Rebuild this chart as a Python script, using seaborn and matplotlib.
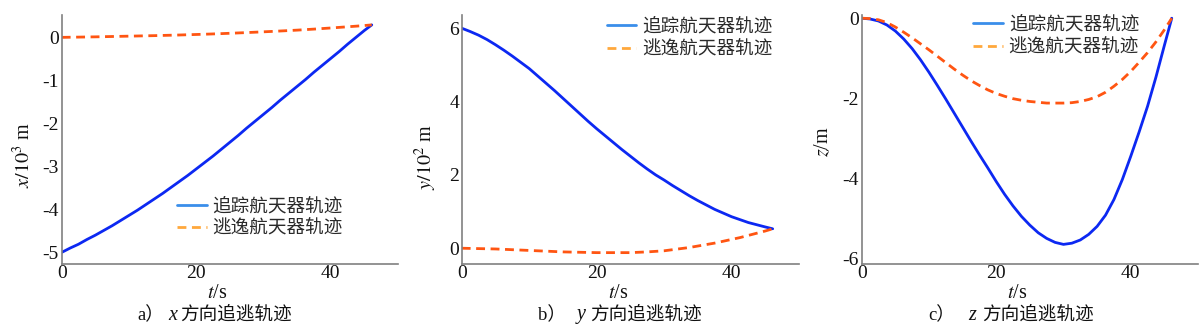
import numpy as np
import pandas as pd
import matplotlib
matplotlib.use("Agg")
import matplotlib.pyplot as plt
from matplotlib.lines import Line2D
import seaborn as sns

# ---------------- data ----------------
t = [0, 1.25, 2.5, 3.75, 5, 6.25, 7.5, 8.75, 10, 11.25, 12.5, 13.75, 15,
     16.25, 17.5, 18.75, 20, 21.25, 22.5, 23.75, 25, 26.25, 27.5, 28.75, 30,
     31.25, 32.5, 33.75, 35, 36.25, 37.5, 38.75, 40, 41.25, 42.5, 43.75, 45, 46.1]

x_chase = [-5.0, -4.90, -4.81, -4.70, -4.60, -4.49, -4.38, -4.26, -4.14, -4.02,
           -3.89, -3.76, -3.63, -3.49, -3.35, -3.21, -3.06, -2.91, -2.76, -2.60,
           -2.44, -2.28, -2.11, -1.95, -1.79, -1.63, -1.46, -1.30, -1.14, -0.98,
           -0.81, -0.65, -0.49, -0.33, -0.16, 0.0, 0.16, 0.29]
x_evade = [0.0, 0.003, 0.006, 0.009, 0.012, 0.016, 0.020, 0.024, 0.028, 0.032,
           0.036, 0.040, 0.045, 0.050, 0.055, 0.061, 0.067, 0.073, 0.080, 0.087,
           0.095, 0.103, 0.111, 0.120, 0.129, 0.138, 0.148, 0.158, 0.168, 0.180,
           0.192, 0.205, 0.218, 0.232, 0.246, 0.260, 0.275, 0.29]

y_chase = [6.0, 5.91, 5.81, 5.69, 5.55, 5.40, 5.24, 5.07, 4.90, 4.70,
           4.50, 4.30, 4.09, 3.88, 3.67, 3.46, 3.26, 3.07, 2.88, 2.69,
           2.51, 2.33, 2.16, 2.00, 1.86, 1.71, 1.57, 1.43, 1.30, 1.18,
           1.06, 0.96, 0.86, 0.78, 0.70, 0.64, 0.58, 0.53]
y_evade = [0.0, -0.005, -0.01, -0.015, -0.02, -0.03, -0.04, -0.05, -0.06, -0.07,
           -0.08, -0.09, -0.10, -0.105, -0.11, -0.115, -0.12, -0.12, -0.12, -0.12,
           -0.12, -0.11, -0.10, -0.085, -0.07, -0.04, -0.01, 0.02, 0.06, 0.10,
           0.14, 0.19, 0.24, 0.29, 0.35, 0.41, 0.47, 0.53]

z_chase = [0.0, -0.02, -0.07, -0.17, -0.32, -0.52, -0.76, -1.04, -1.35, -1.68,
           -2.02, -2.37, -2.72, -3.07, -3.41, -3.74, -4.08, -4.40, -4.69, -4.95,
           -5.17, -5.36, -5.50, -5.60, -5.65, -5.62, -5.54, -5.40, -5.20, -4.92,
           -4.53, -4.03, -3.45, -2.84, -2.20, -1.47, -0.68, 0.0]
z_evade = [0.0, -0.01, -0.04, -0.11, -0.22, -0.35, -0.49, -0.64, -0.79, -0.95,
           -1.11, -1.27, -1.42, -1.56, -1.68, -1.79, -1.88, -1.95, -2.01, -2.05,
           -2.08, -2.10, -2.12, -2.12, -2.12, -2.11, -2.08, -2.03, -1.96, -1.85,
           -1.70, -1.53, -1.33, -1.10, -0.86, -0.59, -0.29, 0.0]

series_names = ["追踪航天器轨迹", "逃逸航天器轨迹"]
ylabels = [r"$x/10^3$ m", r"$y/10^2$ m", r"$z$/m"]
xlabel = r"$t$/s"
cap_letters = ["a）", "b）", "c）"]
cap_vars = ["x", "y", "z"]
cap_text = "方向追逃轨迹"
yticks_list = [[0, -1, -2, -3, -4, -5], [0, 2, 4, 6], [0, -2, -4, -6]]
xticks = [0, 20, 40]

# ---------------- style ----------------
sns.set_theme(style="white")
plt.rcParams["font.family"] = ["Liberation Serif", "Noto Sans CJK SC"]
plt.rcParams["mathtext.fontset"] = "stix"
plt.rcParams["axes.unicode_minus"] = False

W, H = 1200, 335
fig = plt.figure(figsize=(12, 3.35), dpi=100)

line_colors = {series_names[0]: "#0C28F2", series_names[1]: "#FF5512"}
leg_colors = ["#3A8EEA", "#FFA83C"]
dash_map = {series_names[0]: "", series_names[1]: (3.2, 2.0)}

panels = [(x_chase, x_evade), (y_chase, y_evade), (z_chase, z_evade)]
ax_left_px = [61.7, 461.7, 861.7]
ax_right_px = [398, 799, 1198]
ylims = [(-5.27, 0.52), (-0.43, 6.36), (-6.14, 0.08)]
ylab_pos = [(-0.112, 0.438), (-0.106, 0.43), (-0.112, 0.49)]
leg_anchor_px = [(177, 217.5), (606.7, 38.2), (973.3, 35.8)]
cap_px = [(137, 168, 180), (538, 577, 590), (928, 968, 982)]

cjk = ["Noto Sans CJK SC", "DejaVu Sans"]
txt_color = "#111111"

for i, (s1, s2) in enumerate(panels):
    l, r = ax_left_px[i], ax_right_px[i]
    ax = fig.add_axes([l / W, 1 - 264 / H, (r - l) / W, 249 / H])
    df = pd.DataFrame({
        "t": t + t,
        "v": s1 + s2,
        "s": [series_names[0]] * len(t) + [series_names[1]] * len(t),
    })
    sns.lineplot(data=df, x="t", y="v", hue="s", style="s",
                 palette=line_colors, dashes=dash_map, linewidth=2.0,
                 legend=False, ax=ax, sort=False)
    ax.set_xlim(0, 50)
    ax.set_ylim(*ylims[i])
    ax.set_xticks(xticks)
    ax.set_yticks(yticks_list[i])
    ax.tick_params(axis="both", length=0, labelsize=14, colors=txt_color)
    ax.tick_params(axis="y", pad=2)
    ax.tick_params(axis="x", pad=1)
    for side in ["top", "right"]:
        ax.spines[side].set_visible(False)
    for side in ["left", "bottom"]:
        ax.spines[side].set_color("#808080")
        ax.spines[side].set_linewidth(1.2)
    ax.set_xlabel(xlabel, fontsize=14.5, color=txt_color)
    ax.xaxis.set_label_coords(0.4636, -0.1165)
    ax.xaxis.label.set_va("center")
    ax.set_ylabel(ylabels[i], fontsize=14.5, color=txt_color)
    ax.yaxis.set_label_coords(*ylab_pos[i])
    ax.yaxis.label.set_va("center")

    handles = [Line2D([], [], color=leg_colors[0], lw=2.0),
               Line2D([], [], color=leg_colors[1], lw=2.0, dashes=(3.2, 2.0))]
    ax_px, ay_px = leg_anchor_px[i]
    ax.legend(handles, series_names, loc="center left",
              bbox_to_anchor=(ax_px / W, 1 - ay_px / H),
              bbox_transform=fig.transFigure, frameon=False,
              prop={"family": cjk, "size": 13.4}, borderpad=0,
              borderaxespad=0, handlelength=1.6, handletextpad=0.3,
              labelspacing=0.25, labelcolor="#2a2a2a")

    # caption
    cy = 1 - 315 / H
    p1, p2, p3 = cap_px[i]
    fig.text(p1 / W, cy, cap_letters[i], fontsize=13.4, va="center", ha="left",
             family=["Liberation Serif", "Noto Sans CJK SC"], color=txt_color)
    fig.text(p2 / W, cy, cap_vars[i], fontsize=14.5, va="center", ha="left",
             family="Liberation Serif", style="italic", color=txt_color)
    fig.text(p3 / W, cy, cap_text, fontsize=13.4, va="center", ha="left",
             family=cjk, color=txt_color)

fig.savefig("out.png", dpi=100)
